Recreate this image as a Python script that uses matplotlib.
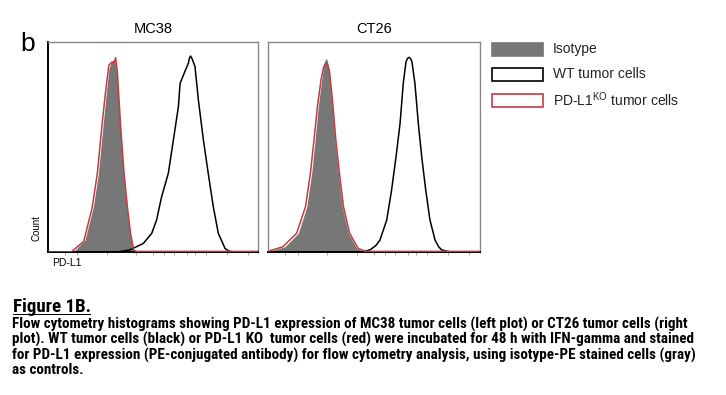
import numpy as np
import matplotlib
matplotlib.use('Agg')
import matplotlib.pyplot as plt
from matplotlib.patches import Rectangle
from matplotlib import font_manager

# PD-L1 intensity (scaled 0..1 along axis) and normalised count
mc38_iso_x = [0.12, 0.176, 0.216, 0.24, 0.263, 0.279, 0.29, 0.3, 0.311, 0.32, 0.327, 0.343, 0.359, 0.375, 0.39, 0.406, 0.41]
mc38_iso_y = [0.0, 0.057, 0.216, 0.375, 0.613, 0.771, 0.87, 0.905, 0.914, 0.9, 0.851, 0.613, 0.375, 0.216, 0.089, 0.01, 0.0]
mc38_ko_x = [0.0, 0.11, 0.17, 0.21, 0.235, 0.258, 0.275, 0.29, 0.305, 0.315, 0.322, 0.33, 0.345, 0.362, 0.378, 0.393, 0.408, 0.42, 1.0]
mc38_ko_y = [0.0, 0.0, 0.05, 0.21, 0.375, 0.613, 0.771, 0.89, 0.905, 0.9, 0.925, 0.86, 0.613, 0.375, 0.216, 0.089, 0.01, 0.003, 0.003]
mc38_wt_x = [0.0, 0.327, 0.39, 0.454, 0.494, 0.517, 0.541, 0.573, 0.597, 0.621, 0.629, 0.652, 0.668, 0.674, 0.679, 0.686, 0.7, 0.716, 0.74, 0.763, 0.787, 0.811, 0.843, 0.862, 0.882, 1.0]
mc38_wt_y = [0.0, 0.0, 0.01, 0.041, 0.089, 0.152, 0.263, 0.375, 0.533, 0.692, 0.803, 0.86, 0.898, 0.925, 0.933, 0.92, 0.883, 0.724, 0.533, 0.375, 0.216, 0.089, 0.017, 0.004, 0.0, 0.0]

ct26_iso_x = [0.01, 0.08, 0.143, 0.183, 0.206, 0.222, 0.237, 0.253, 0.262, 0.269, 0.274, 0.28, 0.285, 0.3, 0.316, 0.332, 0.35, 0.379, 0.418, 0.458]
ct26_iso_y = [0.005, 0.025, 0.089, 0.216, 0.375, 0.533, 0.692, 0.819, 0.88, 0.914, 0.922, 0.91, 0.883, 0.724, 0.533, 0.375, 0.216, 0.089, 0.017, 0.0]
ct26_ko_x = [0.0, 0.07, 0.135, 0.177, 0.2, 0.217, 0.233, 0.25, 0.262, 0.272, 0.282, 0.29, 0.304, 0.32, 0.337, 0.356, 0.385, 0.425, 0.46, 1.0]
ct26_ko_y = [0.003, 0.025, 0.089, 0.216, 0.375, 0.533, 0.692, 0.819, 0.88, 0.9, 0.89, 0.86, 0.724, 0.533, 0.375, 0.216, 0.089, 0.017, 0.003, 0.003]
ct26_wt_x = [0.0, 0.418, 0.45, 0.481, 0.508, 0.528, 0.56, 0.583, 0.604, 0.623, 0.638, 0.651, 0.658, 0.665, 0.672, 0.679, 0.693, 0.709, 0.725, 0.744, 0.764, 0.788, 0.805, 0.819, 0.858, 1.0]
ct26_wt_y = [0.0, 0.0, 0.002, 0.01, 0.03, 0.057, 0.152, 0.295, 0.454, 0.613, 0.803, 0.906, 0.922, 0.927, 0.922, 0.906, 0.803, 0.613, 0.454, 0.295, 0.152, 0.057, 0.025, 0.01, 0.0, 0.0]

panels = [
    ('MC38', mc38_iso_x, mc38_iso_y, mc38_ko_x, mc38_ko_y, mc38_wt_x, mc38_wt_y),
    ('CT26', ct26_iso_x, ct26_iso_y, ct26_ko_x, ct26_ko_y, ct26_wt_x, ct26_wt_y),
]
legend_labels = ['Isotype', 'WT tumor cells', 'PD-L1$^{\\mathregular{KO}}$ tumor cells']

caption_title = 'Figure 1B.'
caption_lines = [
    'Flow cytometry histograms showing PD-L1 expression of MC38 tumor cells (left plot) or CT26 tumor cells (right',
    'plot). WT tumor cells (black) or PD-L1 KO  tumor cells (red) were incubated for 48 h with IFN-gamma and stained',
    'for PD-L1 expression (PE-conjugated antibody) for flow cytometry analysis, using isotype-PE stained cells (gray)',
    'as controls.',
]

gray = '#777777'
red = '#c23b40'
W, H = 726, 395

plt.rcParams['font.family'] = ['Liberation Sans', 'DejaVu Sans']
fig = plt.figure(figsize=(7.26, 3.95), dpi=100)

boxes = [(48, 258), (268, 480)]
top, bot = 42, 252
for (x0, x1), (name, ix, iy, kx, ky, wx, wy) in zip(boxes, panels):
    ax = fig.add_axes([x0 / W, 1 - bot / H, (x1 - x0) / W, (bot - top) / H])
    ax.fill_between(ix, iy, 0, color=gray, lw=0, zorder=1)
    ax.plot(kx, ky, color=red, lw=1.1, zorder=3)
    ax.plot(wx, wy, color='black', lw=1.1, zorder=2)
    ax.set_xlim(0, 1)
    ax.set_ylim(0, 1)
    ax.set_yticks([])
    ticks = [0.08, 0.14, 0.28, 0.42, 0.5, 0.55, 0.6, 0.66, 0.7, 0.75, 0.85, 0.95]
    ax.set_xticks(ticks)
    ax.set_xticklabels([])
    ax.tick_params(axis='x', length=2, width=0.6, color='#999999')
    for s in ['top', 'right']:
        ax.spines[s].set_color('#888888')
        ax.spines[s].set_linewidth(1.0)
    ax.spines['bottom'].set_color('black')
    ax.spines['bottom'].set_linewidth(1.4)
    if name == 'MC38':
        ax.spines['left'].set_color('black')
        ax.spines['left'].set_linewidth(1.4)
    else:
        ax.spines['left'].set_color('#888888')
        ax.spines['left'].set_linewidth(1.0)
    fig.text((x0 + x1) / 2 / W, 1 - 29 / H, name, ha='center', va='center', fontsize=10.5)

fig.text(28 / W, 1 - 44 / H, 'b', ha='center', va='center', fontsize=19)
fig.text(37 / W, 1 - 228 / H, 'Count', rotation=90, ha='center', va='center', fontsize=7)
fig.text(52 / W, 1 - 263 / H, 'PD-L1', ha='left', va='center', fontsize=7.5)

# legend
rows = [(49, gray, gray), (74, 'white', 'black'), (100, 'white', red)]
for (yc, fc, ec), lab in zip(rows, legend_labels):
    fig.patches.append(Rectangle((492 / W, 1 - (yc + 6.5) / H), 51 / W, 13 / H,
                                 transform=fig.transFigure, facecolor=fc,
                                 edgecolor=ec, lw=1.2))
    fig.text(553 / W, 1 - yc / H, lab, ha='left', va='center', fontsize=10, color='#222222')

# caption: narrow bold face if one is available, size fitted to the line width
bold_names = set(f.name for f in font_manager.fontManager.ttflist if f.weight in (600, 700, 'bold', 'semibold'))
narrow = None
for cand in ['Arial Narrow', 'Liberation Sans Narrow', 'Archivo Narrow', 'Roboto Condensed',
             'PT Sans Narrow', 'Pragati Narrow', 'Encode Sans Condensed', 'Fira Sans Condensed',
             'IBM Plex Sans Condensed', 'Barlow Semi Condensed', 'Open Sans Condensed']:
    if cand in bold_names:
        narrow = cand
        break
if narrow:
    cap_kw = dict(family=[narrow, 'DejaVu Sans'], fontweight='bold')
else:
    cap_kw = dict(family=['DejaVu Sans'], fontstretch='condensed', fontweight='bold')

renderer = fig.canvas.get_renderer()
probe = fig.text(0, 0, caption_lines[0], fontsize=10, **cap_kw)
w = probe.get_window_extent(renderer).width
probe.remove()
cap_size = 10 * 677 / w

tt = fig.text(13 / W, 1 - 307 / H, caption_title, ha='left', va='center', fontsize=cap_size * 1.25, **cap_kw)
tw = tt.get_window_extent(renderer).width
fig.patches.append(Rectangle((13 / W, 1 - 315 / H), tw / W, 1.3 / H,
                             transform=fig.transFigure, color='black', lw=0))
for i, line in enumerate(caption_lines):
    fig.text(12 / W, 1 - (324 + 15.5 * i) / H, line, ha='left', va='center', fontsize=cap_size, **cap_kw)

fig.savefig('out.png', dpi=100)
